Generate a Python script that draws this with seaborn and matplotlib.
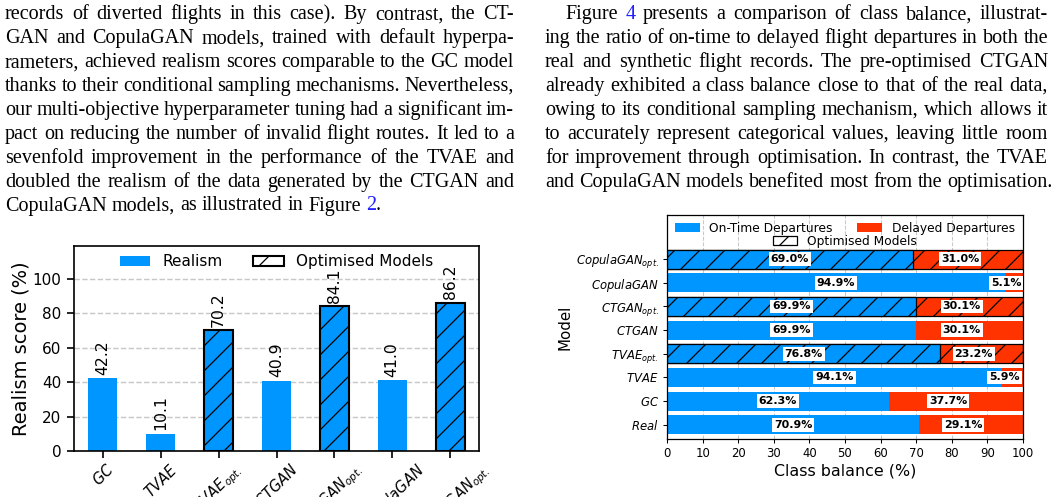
# %%
import re
import pandas as pd
import matplotlib.pyplot as plt
import seaborn as sns
from matplotlib.patches import Patch

plt.rcParams["mathtext.fontset"] = "dejavusans"
plt.rcParams["hatch.linewidth"] = 0.6

BLUE = "#0096ff"
RED = "#ff3300"
LINK = "#1f1fff"

# %%
# realism scores (figure 2)
realism_models = ["GC", "TVAE", "TVAE_opt", "CTGAN", "CTGAN_opt", "CopulaGAN", "CopulaGAN_opt"]
realism_score = [42.2, 10.1, 70.2, 40.9, 84.1, 41.0, 86.2]

# class balance (figure 4), listed bottom -> top
balance_models = ["Real", "GC", "TVAE", "TVAE_opt", "CTGAN", "CTGAN_opt", "CopulaGAN", "CopulaGAN_opt"]
on_time_pct = [70.9, 62.3, 94.1, 76.8, 69.9, 69.9, 94.9, 69.0]
delayed_pct = [29.1, 37.7, 5.9, 23.2, 30.1, 30.1, 5.1, 31.0]

# body text, [..] = link colour
left_lines = [
    "records of diverted flights in this case).  By contrast, the CT-",
    "GAN and CopulaGAN models, trained with default hyperpa-",
    "rameters, achieved realism scores comparable to the GC model",
    "thanks to their conditional sampling mechanisms. Nevertheless,",
    "our multi-objective hyperparameter tuning had a significant im-",
    "pact on reducing the number of invalid flight routes. It led to a",
    "sevenfold improvement in the performance of the TVAE and",
    "doubled the realism of the data generated by the CTGAN and",
    "CopulaGAN models, as illustrated in Figure [2].",
]
right_lines = [
    "Figure [4] presents a comparison of class balance, illustrat-",
    "ing the ratio of on-time to delayed flight departures in both the",
    "real and synthetic flight records.  The pre-optimised CTGAN",
    "already exhibited a class balance close to that of the real data,",
    "owing to its conditional sampling mechanism, which allows it",
    "to accurately represent categorical values, leaving little room",
    "for improvement through optimisation.  In contrast, the TVAE",
    "and CopulaGAN models benefited most from the optimisation.",
]


def tick_label(name):
    if name.endswith("_opt"):
        return r"$\mathit{%s}_{\mathit{opt.}}$" % name[:-4]
    return r"$\mathit{%s}$" % name


# %%
DPI = 150
W, H = 1053, 497
fig = plt.figure(figsize=(W / DPI, H / DPI), dpi=DPI)

# ---- text columns, justified word by word
BODY_PT = 9.7
body = dict(fontsize=BODY_PT, family="Liberation Serif", va="baseline")
STEP = 23.9


def set_column(lines, x0, x1, y0, indent=0.0):
    r = fig.canvas.get_renderer()
    space = BODY_PT * 0.25 * DPI / 72
    for i, line in enumerate(lines):
        y = 1 - (y0 + i * STEP) / H
        start = x0 + (indent if i == 0 else 0)
        words = []
        for w in line.split():
            segs = [(s, LINK if k % 2 else "black") for k, s in enumerate(re.split(r"\[|\]", w)) if s]
            ts = [fig.text(0, y, s, color=c, **body) for s, c in segs]
            ws = [t.get_window_extent(r).width for t in ts]
            words.append((ts, ws))
        total = sum(sum(ws) for _, ws in words)
        last = i == len(lines) - 1
        gap = space if last else (x1 - start - total) / (len(words) - 1)
        x = start
        for ts, ws in words:
            xx = x
            for t, w_ in zip(ts, ws):
                t.set_x(xx / W)
                xx += w_
            x += sum(ws) + gap


set_column(left_lines, 5, 514, 19.3)
set_column(right_lines, 545, 1048, 19.3, indent=20)

# %%
# ---- left: realism score bars
df_real = pd.DataFrame({"model": realism_models, "score": realism_score})

ax1 = fig.add_axes([74 / W, 1 - 451 / H, 405 / W, 205 / H])
sns.barplot(data=df_real, x="model", y="score", color=BLUE, saturation=1,
            width=0.5, linewidth=0, errorbar=None, ax=ax1)
for p, m in zip(ax1.patches, realism_models):
    if m.endswith("_opt"):
        p.set_hatch("//")
        p.set_edgecolor("black")
        p.set_linewidth(1.0)
for i, v in enumerate(realism_score):
    ax1.annotate(f"{v:.1f}", (i, v), xytext=(0, 1.5), textcoords="offset points",
                 rotation=90, ha="center", va="bottom", fontsize=7.5)

ax1.set_xlim(-0.5, 6.5)
ax1.set_ylim(0, 119)
ax1.set_yticks(range(0, 101, 20))
ax1.set_xticks(range(len(realism_models)))
ax1.set_xticklabels([tick_label(m) for m in realism_models], rotation=45)
ax1.tick_params(axis="y", labelsize=7.3, pad=2.5)
ax1.tick_params(axis="x", labelsize=7.0, pad=1.2)
ax1.yaxis.grid(True, linestyle="--", color="#c8c8c8", linewidth=0.7)
ax1.set_axisbelow(True)
ax1.set_xlabel("")
ax1.set_ylabel("Realism score (%)", fontsize=9.3, labelpad=0.8)
ax1.legend(handles=[Patch(facecolor=BLUE, label="Realism"),
                    Patch(facecolor="white", edgecolor="black", hatch="//", label="Optimised Models")],
           loc="center", bbox_to_anchor=(0.5, 1 - 16 / 205), ncol=2, frameon=False, fontsize=7.3)

# %%
# ---- right: class balance, stacked horizontal bars (total drawn first, on-time over it)
df_bal = pd.DataFrame({"model": balance_models, "on_time": on_time_pct, "delayed": delayed_pct})
df_bal["total"] = df_bal["on_time"] + df_bal["delayed"]
order = balance_models[::-1]

ax2 = fig.add_axes([667 / W, 1 - 439 / H, 356 / W, 224 / H])
sns.barplot(data=df_bal, y="model", x="total", order=order, color=RED, saturation=1,
            width=0.8, linewidth=0, errorbar=None, ax=ax2)
sns.barplot(data=df_bal, y="model", x="on_time", order=order, color=BLUE, saturation=1,
            width=0.8, linewidth=0, errorbar=None, ax=ax2)
n = len(order)
for k, p in enumerate(ax2.patches):
    if order[k % n].endswith("_opt"):
        p.set_hatch("//")
        p.set_edgecolor("black")
        p.set_linewidth(0.6)

box = dict(facecolor="white", edgecolor="none", pad=0.9)
lab = df_bal.set_index("model").loc[order]
for j, (ot, dl) in enumerate(zip(lab["on_time"], lab["delayed"])):
    ax2.text(ot / 2, j, f"{ot:.1f}%", ha="center", va="center", fontsize=5.3,
             fontweight="bold", bbox=box)
    ax2.text(ot + dl / 2 - 2.2, j, f"{dl:.1f}%", ha="center", va="center", fontsize=5.3,
             fontweight="bold", bbox=box)

ax2.set_xlim(0, 100)
ax2.set_ylim(7.6, -1.86)
ax2.set_xticks(range(0, 101, 10))
ax2.set_yticks(range(n))
ax2.set_yticklabels([tick_label(m) for m in order])
ax2.tick_params(labelsize=5.6, length=2, width=0.5, pad=2)
for s in ax2.spines.values():
    s.set_linewidth(0.6)
ax2.xaxis.grid(True, linestyle="--", color="#c8c8c8", linewidth=0.5)
ax2.set_axisbelow(True)
ax2.set_xlabel("Class balance (%)", fontsize=7.6, labelpad=1.5)
ax2.set_ylabel("Model", fontsize=7.2, labelpad=1.5)

leg1 = ax2.legend(handles=[Patch(facecolor=BLUE, label="On-Time Departures"),
                           Patch(facecolor=RED, label="Delayed Departures")],
                  loc="center", bbox_to_anchor=(0.5, 1 - 13 / 224), ncol=2, frameon=False, fontsize=5.9)
ax2.add_artist(leg1)
ax2.legend(handles=[Patch(facecolor="white", edgecolor="black", hatch="//", linewidth=0.6,
                          label="Optimised Models")],
           loc="center", bbox_to_anchor=(0.5, 1 - 26 / 224), frameon=False, fontsize=5.9)

fig.savefig("out.png", dpi=DPI)
